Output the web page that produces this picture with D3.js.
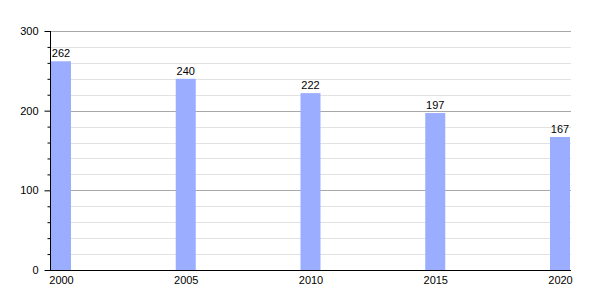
<!DOCTYPE html>
<html>
<head>
<meta charset="utf-8">
<script src="https://cdn.jsdelivr.net/npm/d3@7"></script>
<style>
  body { margin: 0; background: #fff; }
  text { font-family: "Liberation Sans", Arial, sans-serif; }
</style>
</head>
<body>
<div id="chart"></div>
<script>
const years = [2000, 2005, 2010, 2015, 2020];
const values = [262, 240, 222, 197, 167];
const yTicks = [0, 100, 200, 300];

const width = 600, height = 300;
const plotLeft = 50, plotRight = 571, plotTop = 31, plotBottom = 270;
const barW = 20;

const svg = d3.select('#chart').append('svg')
  .attr('width', width)
  .attr('height', height);

const x = d3.scaleLinear().domain([2000, 2020]).range([plotLeft + 1 + barW / 2, plotRight - 1 - barW / 2]);
const y = d3.scaleLinear().domain([0, 300]).range([plotBottom, plotTop]);

// minor gridlines every 20
const minor = d3.range(0, 301, 20).filter(v => v % 100 !== 0);
svg.append('g').selectAll('line')
  .data(minor)
  .enter().append('line')
  .attr('x1', plotLeft).attr('x2', plotRight)
  .attr('y1', d => Math.round(y(d)) + 0.5).attr('y2', d => Math.round(y(d)) + 0.5)
  .attr('stroke', '#e2e2e2');

// major gridlines
svg.append('g').selectAll('line')
  .data(yTicks.filter(v => v > 0))
  .enter().append('line')
  .attr('x1', plotLeft).attr('x2', plotRight)
  .attr('y1', d => Math.round(y(d)) + 0.5).attr('y2', d => Math.round(y(d)) + 0.5)
  .attr('stroke', '#a8a8a8');

// bars
svg.append('g').selectAll('rect')
  .data(values)
  .enter().append('rect')
  .attr('x', (d, i) => x(years[i]) - barW / 2)
  .attr('y', d => y(d))
  .attr('width', barW)
  .attr('height', d => y(0) - y(d))
  .attr('fill', '#9aadfe');

// value labels
svg.append('g').selectAll('text')
  .data(values)
  .enter().append('text')
  .attr('x', (d, i) => x(years[i]))
  .attr('y', d => y(d) - 4)
  .attr('text-anchor', 'middle')
  .style('font-size', '11px')
  .attr('fill', '#000')
  .text(d => d);

// y axis
const yAxis = d3.axisLeft(y).tickValues(yTicks).tickSize(6).tickPadding(6);
const gy = svg.append('g')
  .attr('transform', `translate(${plotLeft + 0.5},0)`)
  .call(yAxis);
gy.select('.domain').attr('d', `M0,${plotTop}V${plotBottom}`).attr('stroke', '#000');
gy.selectAll('.tick line').attr('stroke', '#000');
gy.selectAll('.tick text').style('font-size', '11px').style('font-family', '"Liberation Sans", Arial, sans-serif').attr('fill', '#000');

// y minor ticks
const yMinor = d3.axisLeft(y).tickValues(minor).tickSize(3).tickFormat('');
const gm = svg.append('g')
  .attr('transform', `translate(${plotLeft + 0.5},0)`)
  .call(yMinor);
gm.select('.domain').remove();
gm.selectAll('.tick line').attr('stroke', '#000');

// x axis
const xAxis = d3.axisBottom(x).tickValues(years).tickFormat(d3.format('d')).tickSize(0).tickPadding(6);
const gx = svg.append('g')
  .attr('transform', `translate(0,${plotBottom + 0.5})`)
  .call(xAxis);
gx.select('.domain').attr('d', `M${plotLeft},0H${plotRight}`).attr('stroke', '#000');
gx.selectAll('.tick text').style('font-size', '11px').style('font-family', '"Liberation Sans", Arial, sans-serif').attr('fill', '#000');
</script>
</body>
</html>
